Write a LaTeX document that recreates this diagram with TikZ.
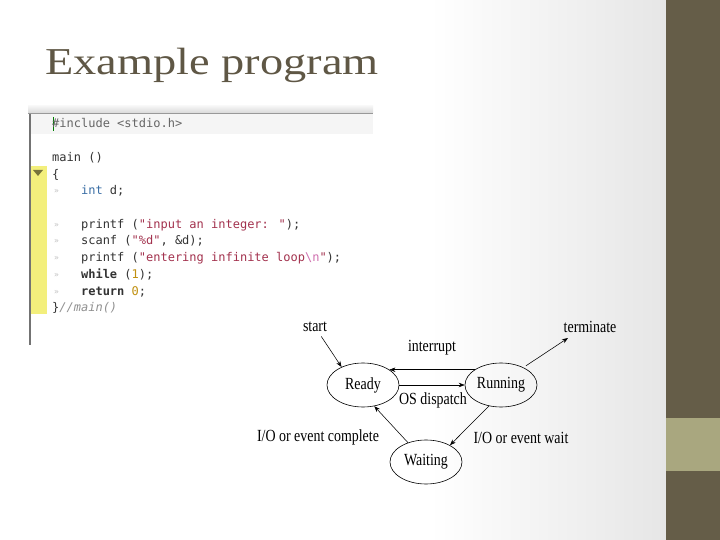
\documentclass[tikz,border=0pt]{standalone}
\usepackage{fontspec}
\usepackage{graphicx}
\setmainfont{Liberation Serif}
\newfontfamily\codefont{DejaVu Sans Mono}
\usetikzlibrary{arrows.meta,shapes.geometric}
\definecolor{barcol}{HTML}{655D48}
\definecolor{bandcol}{HTML}{A9A77F}
\definecolor{bggray}{HTML}{E6E6E6}
\definecolor{titlecol}{HTML}{5F5745}
\definecolor{codeplain}{HTML}{333333}
\definecolor{codekw}{HTML}{3A6EA5}
\definecolor{codestr}{HTML}{A3324E}
\definecolor{codeesc}{HTML}{D070B0}
\definecolor{codenum}{HTML}{C09010}
\definecolor{codecmt}{HTML}{909090}
\definecolor{gutter}{HTML}{F3EF7C}
\definecolor{tri}{HTML}{77733A}
\newcommand{\dlab}[1]{\scalebox{0.82}[1]{\fontsize{17}{19}\selectfont #1}}
\newcommand{\kw}[1]{\textcolor{codekw}{#1}}
\newcommand{\str}[1]{\textcolor{codestr}{#1}}
\newcommand{\num}[1]{\textcolor{codenum}{#1}}
\begin{document}
\begin{tikzpicture}[x=1pt,y=-1pt,
  state/.style={ellipse, draw, line width=0.6pt, minimum width=72pt, minimum height=44pt, inner sep=0pt},
  lbl/.style={inner sep=1pt},
  arr/.style={-{Stealth[length=6pt,width=4.5pt]}, line width=0.55pt},
  codeline/.style={anchor=base west, inner sep=0pt, font=\codefont\fontsize{12}{14}\selectfont, text=codeplain},
  tabmark/.style={anchor=base west, inner sep=0pt, font=\codefont\fontsize{8}{9}\selectfont, text=black!25}]
\useasboundingbox (0,0) rectangle (720,540);
% background
\fill[white] (0,0) rectangle (720,540);
\shade[left color=white, right color=bggray] (430,0) rectangle (666,540);
\fill[barcol] (666,0) rectangle (720,540);
\fill[bandcol] (666,418) rectangle (720,471);
% title
\node[anchor=base west, inner sep=0pt, text=titlecol] (title) at (45,75) {\scalebox{1.22}[1]{\fontsize{38}{40}\selectfont Example program}};
% code screenshot
\fill[white] (28,106) rectangle (373,346);
\shade[top color=black!4, bottom color=black!15] (28,106) rectangle (373,113);
\draw[black!40, line width=1pt] (28,113.5) -- (373,113.5);
\fill[black!4] (31,114) rectangle (373,134);
\draw[black!55, line width=2pt] (29.5,114) -- (29.5,345);
\fill[gutter] (31,166) rectangle (47,314);
\fill[tri] (33,170) -- (43,170) -- (38,176) -- cycle;
\draw[green!50!black, line width=1pt] (53,117) -- (53,131);
\node[codeline, text=black!60] (c0) at (52,128) {\#include <stdio.h>};
\node[codeline] (c1) at (52,161.4) {main ()};
\node[codeline] (c2) at (52,178.1) {\{};
\node[codeline] (c3) at (80.9,194.8) {\kw{int} d;};
\node[codeline] (c4) at (80.9,228.2) {printf (\str{"input an integer: "});};
\node[codeline] (c5) at (80.9,244.9) {scanf (\str{"\%d"}, \&d);};
\node[codeline] (c6) at (80.9,261.6) {printf (\str{"entering infinite loop}\textcolor{codeesc}{\textbackslash n}\str{"});};
\node[codeline] (c7) at (80.9,278.3) {\textbf{while} (\num{1});};
\node[codeline] (c8) at (80.9,295) {\textbf{return} \num{0};};
\node[codeline] (c9) at (52,311.7) {\}\textcolor{codecmt}{\itshape//main()}};
\foreach \yy/\nm in {194.8/t3,228.2/t4,244.9/t5,261.6/t6,278.3/t7,295/t8}
  \node[tabmark] (\nm) at (54,\yy-1) {»};
% state diagram
\node[state] (Ready) at (363,385) {\dlab{Ready}};
\node[state] (Running) at (501,385) {\dlab{Running}};
\node[state] (Waiting) at (426,462) {\dlab{Waiting}};
\node[lbl] (start) at (315,327) {\dlab{start}};
\node[lbl] (terminate) at (590,327) {\dlab{terminate}};
\node[lbl] (interrupt) at (432,348) {\dlab{interrupt}};
\node[lbl] (dispatch) at (433,400) {\dlab{OS dispatch}};
\node[lbl] (complete) at (318,437) {\dlab{I/O or event complete}};
\node[lbl] (wait) at (521,438) {\dlab{I/O or event wait}};
\coordinate (termtip) at (568,338);
\draw[arr, shorten <=4pt] (start) -- (Ready.140);
\draw[arr] (Running.150) -- (Ready.30);
\draw[arr] (Ready.east) -- (Running.west);
\draw[arr, shorten <=3pt] (Running.38) -- (termtip);
\draw[arr] (Running.240) -- (Waiting.35);
\draw[arr] (Waiting.133) -- (Ready.298);
\end{tikzpicture}
\end{document}
